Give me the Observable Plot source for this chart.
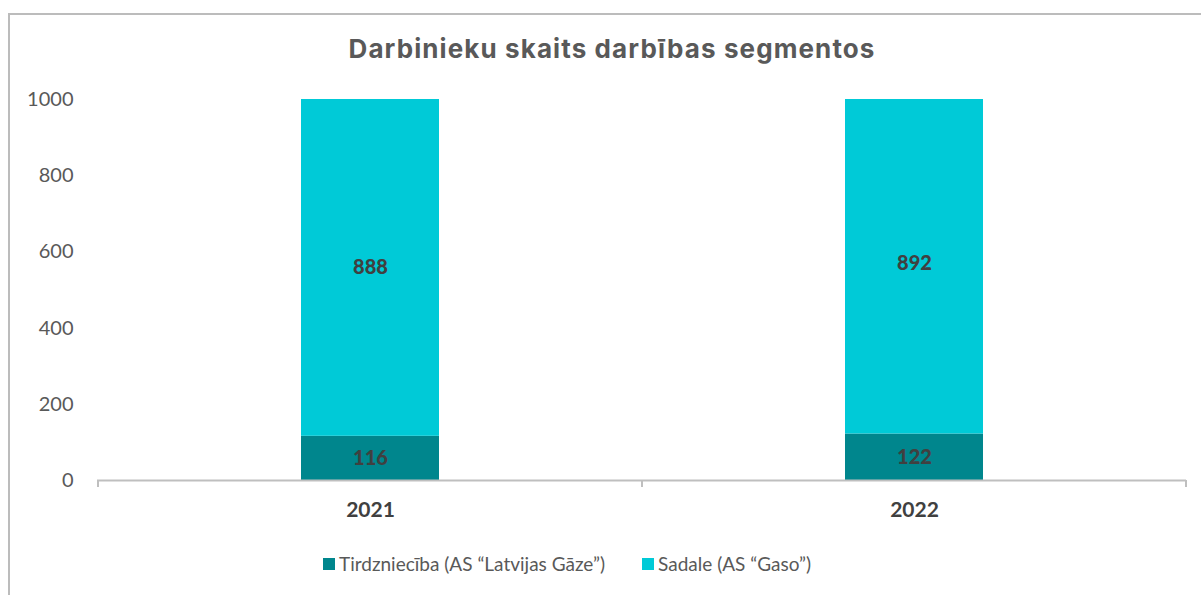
<!DOCTYPE html>
<html>
<head>
<meta charset="utf-8">
<script src="https://cdn.jsdelivr.net/npm/d3@7"></script>
<script src="https://cdn.jsdelivr.net/npm/@observablehq/plot@0.6"></script>
<style>
  html, body { margin: 0; padding: 0; background: #fff; }
  body { width: 1201px; height: 595px; overflow: hidden; position: relative; font-family: Lato, "Open Sans", sans-serif; }
  #frame { position: absolute; left: 8px; top: 13px; width: 1200px; height: 600px; border-left: 2px solid #bcbcbc; border-top: 2px solid #bcbcbc; box-sizing: border-box; }
  #title { position: absolute; left: 0; top: 33px; width: 1224px; text-align: center; font-family: Inter, "Open Sans", sans-serif; font-weight: 700; font-size: 26px; letter-spacing: 1.1px; color: #595959; }
  #chart { position: absolute; left: 0; top: 80px; }
  #legend { position: absolute; left: 323px; top: 552px; display: flex; align-items: center; font-size: 19px; color: #595959; }
  .item { display: flex; align-items: center; margin-right: 37px; }
  .sw { width: 12px; height: 12px; margin-right: 4px; }
</style>
</head>
<body>
<div id="frame"></div>
<div id="title">Darbinieku skaits darbības segmentos</div>
<div id="chart"></div>
<div id="legend"></div>
<script>
const years = ["2021", "2022"];
const seriesNames = ["Tirdzniecība (AS “Latvijas Gāze”)", "Sadale (AS “Gaso”)"];
const tirdzniecibaValues = [116, 122];
const sadaleValues = [888, 892];
const seriesColors = ["#00868d", "#00cad7"];
const yTicks = [0, 200, 400, 600, 800, 1000];

const data = [];
years.forEach((y, i) => data.push({year: y, series: seriesNames[0], value: tirdzniecibaValues[i]}));
years.forEach((y, i) => data.push({year: y, series: seriesNames[1], value: sadaleValues[i]}));

function boundaryTicks() {
  return (index, scales, values, dims) => {
    const g = d3.create("svg:g").attr("stroke", "#bfbfbf").attr("stroke-width", 2);
    const y0 = scales.y(0);
    const xs = years.map(y => scales.x(y)).concat([dims.width - dims.marginRight]);
    xs.forEach(x => g.append("line").attr("x1", x).attr("x2", x).attr("y1", y0).attr("y2", y0 + 7));
    return g.node();
  };
}

const chart = Plot.plot({
  width: 1201,
  height: 440,
  marginTop: 19,
  marginBottom: 40,
  marginLeft: 97,
  marginRight: 15,
  style: {fontFamily: "Lato, 'Open Sans', sans-serif", background: "transparent"},
  x: {domain: years, padding: 0, label: null},
  y: {domain: [0, 1000], clamp: true, label: null},
  color: {domain: seriesNames, range: seriesColors},
  marks: [
    Plot.barY(data, Plot.stackY({x: "year", y: "value", fill: "series", insetLeft: 203, insetRight: 203})),
    Plot.ruleY([0], {stroke: "#bfbfbf", strokeWidth: 2}),
    boundaryTicks(),
    Plot.text(data, Plot.stackY({x: "year", y: "value", z: "series", text: d => String(d.value), fill: "#404040", fontWeight: 900, fontSize: 20})),
    Plot.axisY({ticks: yTicks, tickSize: 0, tickPadding: 24, tickFormat: d => String(d), fontSize: 20, fill: "#595959"}),
    Plot.axisX({tickSize: 0, tickPadding: 22, fontSize: 21, fontWeight: "bold", fill: "#404040"})
  ]
});
document.getElementById("chart").appendChild(chart);

const legend = document.getElementById("legend");
seriesNames.forEach((name, i) => {
  const item = document.createElement("div");
  item.className = "item";
  const sw = document.createElement("div");
  sw.className = "sw";
  sw.style.background = seriesColors[i];
  const label = document.createElement("span");
  label.textContent = name;
  item.appendChild(sw);
  item.appendChild(label);
  legend.appendChild(item);
});
</script>
</body>
</html>
